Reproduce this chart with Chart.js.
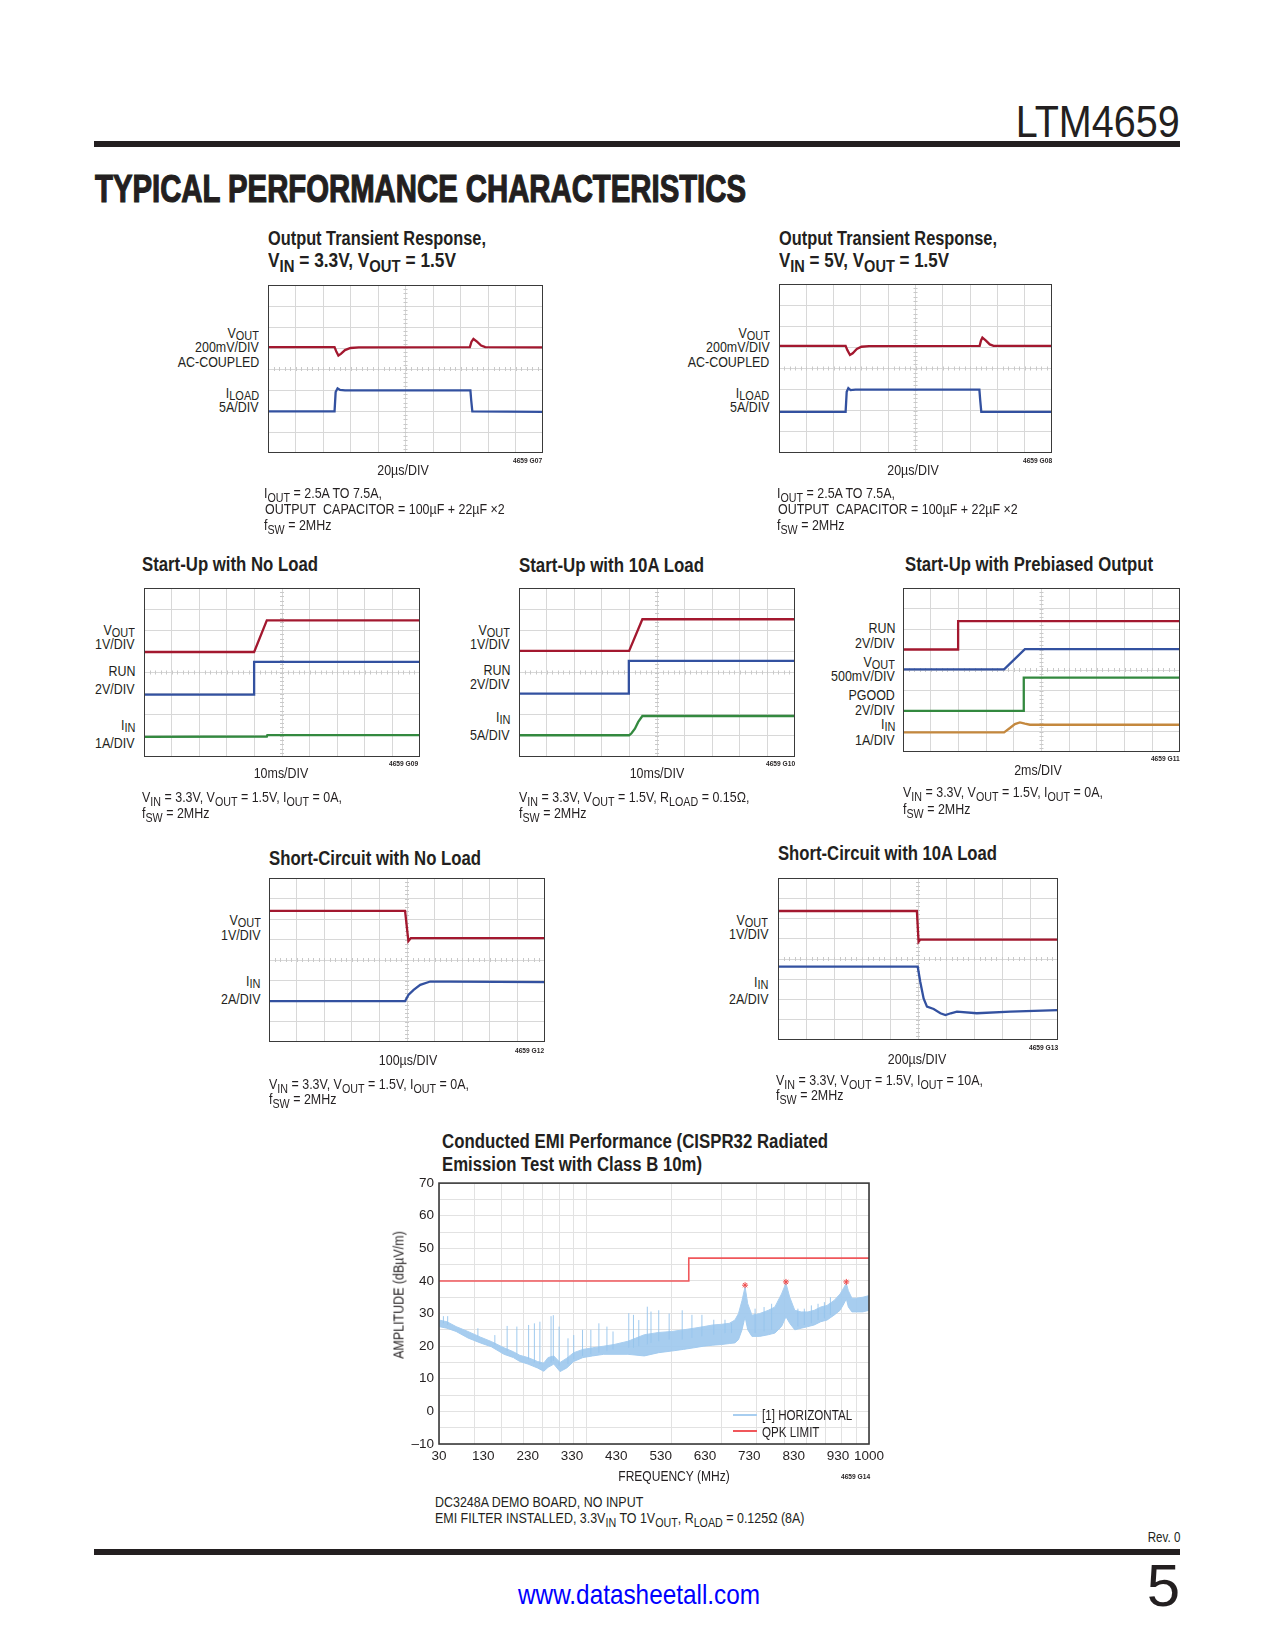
<!DOCTYPE html>
<html><head><meta charset="utf-8">
<script src="https://cdn.jsdelivr.net/npm/chart.js@4.4.1/dist/chart.umd.min.js"></script>
<style>
html,body{margin:0;padding:0;background:#fff;}
body{width:1275px;height:1650px;position:relative;overflow:hidden;font-family:"Liberation Sans Narrow","Arial Narrow","Liberation Sans",Arial,sans-serif;color:#231f20;}
.t{position:absolute;white-space:nowrap;line-height:1;}
.s{font-size:0.86em;vertical-align:-0.28em;line-height:1;}
.l{font-size:0.88em;vertical-align:-0.12em;line-height:1;}
.box{position:absolute;border:1.6px solid #3a3a3a;box-sizing:border-box;}
.rule{position:absolute;background:#231f20;}
canvas{position:absolute;}
</style></head><body>
<script>
// ---------------- DATA ----------------
// Scope traces: time in divisions (0..10), level in divisions from bottom (0..8)
const c1VoutT = [0, 2.42, 2.48, 2.56, 2.65, 2.8, 3.0, 3.3, 7.34, 7.4, 7.47, 7.6, 7.75, 7.9, 10];
const c1VoutV = [5.04, 5.04, 4.85, 4.64, 4.72, 4.9, 5.0, 5.03, 5.04, 5.3, 5.43, 5.3, 5.12, 5.04, 5.03];
const c1IloadT = [0, 2.42, 2.46, 2.53, 2.62, 2.8, 7.36, 7.39, 7.43, 10];
const c1IloadV = [1.98, 1.98, 2.9, 3.08, 3.0, 2.98, 2.98, 2.5, 1.98, 1.96];

const c2VoutT = [0, 2.44, 2.5, 2.6, 2.7, 2.85, 3.02, 3.3, 7.35, 7.4, 7.45, 7.58, 7.72, 7.86, 10];
const c2VoutV = [5.07, 5.07, 4.88, 4.64, 4.72, 4.92, 5.03, 5.06, 5.07, 5.33, 5.46, 5.32, 5.14, 5.07, 5.07];
const c2IloadT = [0, 2.44, 2.48, 2.54, 2.62, 2.8, 7.34, 7.37, 7.41, 10];
const c2IloadV = [1.95, 1.95, 2.9, 3.07, 2.98, 3.0, 3.0, 2.5, 1.95, 1.95];

const c3VoutT = [0, 3.99, 4.45, 10];       const c3VoutV = [4.97, 4.97, 6.47, 6.47];
const c3RunT  = [0, 3.99, 3.99, 10];       const c3RunV  = [2.95, 2.95, 4.5, 4.5];
const c3IinT  = [0, 4.45, 4.47, 10];       const c3IinV  = [0.95, 0.97, 1.04, 1.04];

const c4VoutT = [0, 3.99, 4.47, 10];       const c4VoutV = [5.02, 5.02, 6.52, 6.52];
const c4RunT  = [0, 3.98, 3.98, 10];       const c4RunV  = [3.0, 3.0, 4.55, 4.55];
const c4IinT  = [0, 3.99, 4.07, 4.2, 4.32, 4.47, 10];
const c4IinV  = [1.03, 1.03, 1.11, 1.34, 1.66, 1.94, 1.94];

const c5RunT   = [0, 1.99, 1.99, 10];      const c5RunV   = [5.0, 5.0, 6.38, 6.38];
const c5VoutT  = [0, 3.65, 4.4, 10];       const c5VoutV  = [4.03, 4.03, 5.02, 5.02];
const c5PgoodT = [0, 4.36, 4.36, 10];      const c5PgoodV = [2.01, 2.01, 3.63, 3.63];
const c5IinT   = [0, 3.65, 3.86, 4.04, 4.22, 4.4, 4.58, 10];
const c5IinV   = [0.96, 0.96, 1.17, 1.36, 1.44, 1.38, 1.33, 1.33];

const c6VoutT = [0, 4.93, 5.05, 5.14, 10]; const c6VoutV = [6.4, 6.4, 4.92, 5.07, 5.07];
const c6IinT  = [0, 4.93, 5.05, 5.24, 5.48, 5.84, 6.56, 10];
const c6IinV  = [1.99, 1.99, 2.3, 2.54, 2.79, 2.95, 2.95, 2.92];

const c7VoutT = [0, 4.96, 5.02, 5.08, 10]; const c7VoutV = [6.37, 6.37, 4.85, 4.96, 4.96];
const c7IinT  = [0, 4.99, 5.08, 5.2, 5.32, 5.56, 5.8, 5.98, 6.17, 6.39, 7.1, 8.3, 10];
const c7IinV  = [3.62, 3.62, 2.88, 2.05, 1.65, 1.53, 1.32, 1.23, 1.32, 1.4, 1.32, 1.4, 1.48];

// EMI chart (frequency MHz, amplitude dBuV/m)
const emiFreq = [30,32,34.5,38,42,46,51,55,58,62,67,70.5,73,76.5,80.5,85,90,97,105,115,125,140,160,180,200,220,240,260,280,300,320,335,345,355,364,372,385,410,440,464,490,508,524,546,575,608,640,675,710,752,790,815,831,845,870,900,950,1000];
const emiLow  = [26,25.5,24.5,22.5,21,19.8,17.5,16.5,15.3,14.5,13.3,12.3,13.5,14.5,12.2,13.3,15.3,16.5,17,17.5,17.5,17.5,17,18,18.5,19,19.5,20,20.3,20.5,20.8,21,22,25,29,25,23,23,23.5,24,26,29,27,25,25.5,26,26.5,27.5,28,29.5,31,33,34.5,32,30.5,30.5,30.5,31];
const emiHigh = [28,27.5,26,24.5,22.8,21.4,19.5,18.3,17.2,16.5,15.3,14.8,16.5,17,15,16.3,18,19,19.5,20,20.5,21.5,23.5,24.2,24.5,25,25.5,26,26.5,26.7,27,28,30,34,38.2,33,29.5,30,31,32,36,39.3,35,31,30.5,30.5,31,32,32.5,34,36,38,39.3,37,34.7,34.7,35,35.5];
const spikeFreq = [31.1,32.2,41.2,47.3,52.3,56.6,62.3,65.3,68.3,74.8,76.2,79.9,85.9,90,96.7,103.5,110.5,118,124,141,146.5,153,164,169,180,196,218,236,256,282,309,326,395,425,452,560,590,625,660,695,730];
const spikeBase = [27,26.5,23,20.5,18.5,17.5,16,15,14.5,15,15.5,14,14.5,16,17,17.5,18,18.5,19,19.5,19.5,20,20.5,21,21.5,22,22,22.5,23,23.5,24,24,24,24.5,25,26,26.5,27,28,28.5,29.5];
const spikeTop  = [29.2,29.2,25.5,23.4,26.2,26,26.5,27,27.5,29.2,29.5,26,22.4,23.4,25,25,27,26,24.5,30.1,29.6,28,32.1,30.6,31,30,31,29.6,29.6,28.1,28.1,27.1,31.5,32,33,31.5,31.5,32.5,33,33.5,35];
const peakFreq = [364, 508, 831];
const peakVal  = [38.7, 39.7, 39.7];
const qpkFreq = [30, 230, 230, 1000];
const qpkVal  = [40, 40, 47, 47];
const freqLabels = [30,130,230,330,430,530,630,730,830,930,1000];
const logGrid = [30,40,50,60,70,80,90,100,200,300,400,500,600,700,800,900,1000];
const ampTickVals = [-10,0,10,20,30,40,50,60,70];
const ampTickLabels = ['\u201310','0','10','20','30','40','50','60','70'];

// ---------------- helpers ----------------
const FONT = '"Liberation Sans Narrow","Arial Narrow","Liberation Sans",Arial,sans-serif';
Chart.defaults.font.family = FONT;
Chart.defaults.color = '#231f20';
const RED = '#a3182f', BLUE = '#3351a0', GREEN = '#33893f', ORANGE = '#c4883e';
const SX = 0.83; // condensing factor for regular text

function T(html, x, base, size, o = {}) {
  const d = document.createElement('div');
  d.className = 't';
  d.innerHTML = html;
  d.style.fontSize = size + 'px';
  if (o.bold) d.style.fontWeight = 'bold';
  if (o.color) d.style.color = o.color;
  if (o.css) d.style.cssText += o.css;
  d.style.top = (base - 0.8465 * size) + 'px';
  const al = o.align || 'l';
  document.body.appendChild(d);
  let tr = '';
  if (al === 'l') { d.style.left = x + 'px'; d.style.transformOrigin = 'left center'; }
  else if (al === 'r') { d.style.right = (1275 - x) + 'px'; d.style.transformOrigin = 'right center'; }
  else { d.style.left = x + 'px'; d.style.transformOrigin = 'center center'; tr = 'translateX(-50%) '; }
  if (o.w) { const w = d.getBoundingClientRect().width; tr += 'scaleX(' + (o.w / w).toFixed(4) + ')'; }
  else if (!o.nosx) { tr += 'scaleX(' + SX + ')'; }
  if (tr) d.style.transform = tr;
  return d;
}
function rule(l, t, w, h, col) {
  const d = document.createElement('div'); d.className = 'rule';
  d.style.cssText += `left:${l}px;top:${t}px;width:${w}px;height:${h}px` + (col ? `;background:${col}` : '');
  document.body.appendChild(d);
}
const centerTicks = {
  id: 'centerTicks',
  beforeDatasetsDraw(chart) {
    const { ctx, scales: { x, y } } = chart;
    ctx.save(); ctx.strokeStyle = '#c9c9c9'; ctx.lineWidth = 1;
    const cx = x.getPixelForValue(5), cy = y.getPixelForValue(4);
    for (let k = 0; k <= 50; k++) { const px = Math.round(x.getPixelForValue(k * 0.2)) + 0.5; ctx.beginPath(); ctx.moveTo(px, cy - 2); ctx.lineTo(px, cy + 2); ctx.stroke(); }
    for (let k = 0; k <= 40; k++) { const py = Math.round(y.getPixelForValue(k * 0.2)) + 0.5; ctx.beginPath(); ctx.moveTo(cx - 2, py); ctx.lineTo(cx + 2, py); ctx.stroke(); }
    ctx.restore();
  }
};
function scope(L, Tp, W, H, traces) {
  const c = document.createElement('canvas');
  c.width = W; c.height = H;
  c.style.cssText = `left:${L}px;top:${Tp}px;width:${W}px;height:${H}px`;
  document.body.appendChild(c);
  const b = document.createElement('div'); b.className = 'box';
  b.style.cssText += `left:${L}px;top:${Tp}px;width:${W}px;height:${H}px`;
  document.body.appendChild(b);
  const ax = (max) => ({ type: 'linear', min: 0, max: max, ticks: { display: false, stepSize: 1 },
    grid: { color: '#d8d8d8', drawTicks: false, lineWidth: 1 }, border: { display: false } });
  new Chart(c, {
    type: 'line',
    data: { datasets: traces.map(tr => ({
      data: tr[0].map((t, i) => ({ x: t, y: tr[1][i] })),
      borderColor: tr[2], borderWidth: 2.3, pointRadius: 0, tension: 0, fill: false })) },
    options: { animation: false, responsive: false, events: [], layout: { padding: 0 },
      plugins: { legend: { display: false }, tooltip: { enabled: false } },
      scales: { x: ax(10), y: ax(8) } },
    plugins: [centerTicks]
  });
}
const SUB = (t) => '<span class="s">' + t + '</span>';
const LSUB = (t) => '<span class="l">' + t + '</span>';

// ---------------- HEADER ----------------
T('LTM4659', 1180, 137, 44, { align: 'r', w: 164 });
rule(94, 141, 1086, 6);
T('TYPICAL PERFORMANCE CHARACTERISTICS', 95, 202, 38, { bold: true, w: 651, css: '-webkit-text-stroke:1.2px #231f20;' });

// ---------------- CHART 1 ----------------
T('Output Transient Response,', 268, 245, 20, { bold: true, w: 218 });
T('V' + SUB('IN') + ' = 3.3V, V' + SUB('OUT') + ' = 1.5V', 268, 266.5, 20, { bold: true, w: 188 });
T('V' + LSUB('OUT'), 259, 338, 15, { align: 'r' });
T('200mV/DIV', 259, 352, 15, { align: 'r' });
T('AC-COUPLED', 259, 366.5, 15, { align: 'r' });
T('I' + LSUB('LOAD'), 259, 398, 15, { align: 'r' });
T('5A/DIV', 259, 412, 15, { align: 'r' });
scope(268, 285, 275, 168, [[c1VoutT, c1VoutV, RED], [c1IloadT, c1IloadV, BLUE]]);
T('20µs/DIV', 403, 475, 15, { align: 'c' });
T('4659 G07', 542, 464, 8, { align: 'r', bold: true });
T('I' + SUB('OUT') + ' = 2.5A TO 7.5A,', 264, 497.5, 15);
T('OUTPUT&nbsp; CAPACITOR = 100µF + 22µF ×2', 265, 514, 15);
T('f' + SUB('SW') + ' = 2MHz', 264, 530, 15);

// ---------------- CHART 2 ----------------
T('Output Transient Response,', 779, 245, 20, { bold: true, w: 218 });
T('V' + SUB('IN') + ' = 5V, V' + SUB('OUT') + ' = 1.5V', 779, 266.5, 20, { bold: true, w: 170 });
T('V' + LSUB('OUT'), 769.5, 337.5, 15, { align: 'r' });
T('200mV/DIV', 769.5, 351.5, 15, { align: 'r' });
T('AC-COUPLED', 769.5, 366.5, 15, { align: 'r' });
T('I' + LSUB('LOAD'), 769.5, 397.5, 15, { align: 'r' });
T('5A/DIV', 769.5, 411.5, 15, { align: 'r' });
scope(779, 284, 273, 169, [[c2VoutT, c2VoutV, RED], [c2IloadT, c2IloadV, BLUE]]);
T('20µs/DIV', 913, 475, 15, { align: 'c' });
T('4659 G08', 1052, 463.5, 8, { align: 'r', bold: true });
T('I' + SUB('OUT') + ' = 2.5A TO 7.5A,', 776.5, 497.5, 15);
T('OUTPUT&nbsp; CAPACITOR = 100µF + 22µF ×2', 777.5, 514, 15);
T('f' + SUB('SW') + ' = 2MHz', 776.5, 530, 15);

// ---------------- CHART 3 ----------------
T('Start-Up with No Load', 142.3, 571, 20, { bold: true, w: 176 });
T('V' + LSUB('OUT'), 135, 635, 15, { align: 'r' });
T('1V/DIV', 135, 649, 15, { align: 'r' });
T('RUN', 135, 676, 15, { align: 'r' });
T('2V/DIV', 135, 694, 15, { align: 'r' });
T('I' + LSUB('IN'), 135, 730, 15, { align: 'r' });
T('1A/DIV', 135, 747.5, 15, { align: 'r' });
scope(144, 588, 276, 169, [[c3VoutT, c3VoutV, RED], [c3RunT, c3RunV, BLUE], [c3IinT, c3IinV, GREEN]]);
T('10ms/DIV', 281, 778, 15, { align: 'c' });
T('4659 G09', 418, 766.5, 8, { align: 'r', bold: true });
T('V' + SUB('IN') + ' = 3.3V, V' + SUB('OUT') + ' = 1.5V, I' + SUB('OUT') + ' = 0A,', 142, 802, 15);
T('f' + SUB('SW') + ' = 2MHz', 142, 817.5, 15);

// ---------------- CHART 4 ----------------
T('Start-Up with 10A Load', 519.3, 571.5, 20, { bold: true, w: 185 });
T('V' + LSUB('OUT'), 510, 634.5, 15, { align: 'r' });
T('1V/DIV', 510, 648.5, 15, { align: 'r' });
T('RUN', 510, 674.5, 15, { align: 'r' });
T('2V/DIV', 510, 689, 15, { align: 'r' });
T('I' + LSUB('IN'), 510, 721.5, 15, { align: 'r' });
T('5A/DIV', 510, 740, 15, { align: 'r' });
scope(519, 588, 276, 169, [[c4VoutT, c4VoutV, RED], [c4RunT, c4RunV, BLUE], [c4IinT, c4IinV, GREEN]]);
T('10ms/DIV', 656.7, 778, 15, { align: 'c' });
T('4659 G10', 795, 766.5, 8, { align: 'r', bold: true });
T('V' + SUB('IN') + ' = 3.3V, V' + SUB('OUT') + ' = 1.5V, R' + SUB('LOAD') + ' = 0.15Ω,', 518.5, 801.5, 15);
T('f' + SUB('SW') + ' = 2MHz', 518.5, 817.5, 15);

// ---------------- CHART 5 ----------------
T('Start-Up with Prebiased Output', 905, 571, 20, { bold: true, w: 248 });
T('RUN', 895, 632.5, 15, { align: 'r' });
T('2V/DIV', 895, 647.5, 15, { align: 'r' });
T('V' + LSUB('OUT'), 895, 667, 15, { align: 'r' });
T('500mV/DIV', 895, 681, 15, { align: 'r' });
T('PGOOD', 895, 700, 15, { align: 'r' });
T('2V/DIV', 895, 714.5, 15, { align: 'r' });
T('I' + LSUB('IN'), 895, 729, 15, { align: 'r' });
T('1A/DIV', 895, 745, 15, { align: 'r' });
scope(903, 588, 277, 164, [[c5RunT, c5RunV, RED], [c5VoutT, c5VoutV, BLUE], [c5PgoodT, c5PgoodV, GREEN], [c5IinT, c5IinV, ORANGE]]);
T('2ms/DIV', 1038, 775, 15, { align: 'c' });
T('4659 G11', 1180, 761.5, 8, { align: 'r', bold: true });
T('V' + SUB('IN') + ' = 3.3V, V' + SUB('OUT') + ' = 1.5V, I' + SUB('OUT') + ' = 0A,', 903.3, 796.7, 15);
T('f' + SUB('SW') + ' = 2MHz', 903.3, 813.3, 15);

// ---------------- CHART 6 ----------------
T('Short-Circuit with No Load', 269.3, 865, 20, { bold: true, w: 212 });
T('V' + LSUB('OUT'), 260.7, 925, 15, { align: 'r' });
T('1V/DIV', 260.7, 939.3, 15, { align: 'r' });
T('I' + LSUB('IN'), 260.7, 986, 15, { align: 'r' });
T('2A/DIV', 260.7, 1003.3, 15, { align: 'r' });
scope(269, 878, 276, 164, [[c6VoutT, c6VoutV, RED], [c6IinT, c6IinV, BLUE]]);
T('100µs/DIV', 408.3, 1065, 15, { align: 'c' });
T('4659 G12', 544, 1053.3, 8, { align: 'r', bold: true });
T('V' + SUB('IN') + ' = 3.3V, V' + SUB('OUT') + ' = 1.5V, I' + SUB('OUT') + ' = 0A,', 269.3, 1088.3, 15);
T('f' + SUB('SW') + ' = 2MHz', 269.3, 1103.3, 15);

// ---------------- CHART 7 ----------------
T('Short-Circuit with 10A Load', 777.7, 860, 20, { bold: true, w: 219 });
T('V' + LSUB('OUT'), 768.3, 924.3, 15, { align: 'r' });
T('1V/DIV', 768.3, 938.3, 15, { align: 'r' });
T('I' + LSUB('IN'), 768.3, 986.7, 15, { align: 'r' });
T('2A/DIV', 768.3, 1003.3, 15, { align: 'r' });
scope(778, 878, 280, 162, [[c7VoutT, c7VoutV, RED], [c7IinT, c7IinV, BLUE]]);
T('200µs/DIV', 916.7, 1063.3, 15, { align: 'c' });
T('4659 G13', 1057.7, 1051, 8, { align: 'r', bold: true });
T('V' + SUB('IN') + ' = 3.3V, V' + SUB('OUT') + ' = 1.5V, I' + SUB('OUT') + ' = 10A,', 776, 1085, 15);
T('f' + SUB('SW') + ' = 2MHz', 776, 1100, 15);

// ---------------- EMI CHART ----------------
T('Conducted EMI Performance (CISPR32 Radiated', 442.3, 1147.7, 20, { bold: true, w: 386 });
T('Emission Test with Class B 10m)', 442.3, 1171, 20, { bold: true, w: 260 });
(function () {
  const L = 384, Tp = 1170, W = 508, H = 315;
  const c = document.createElement('canvas');
  c.width = W; c.height = H;
  c.style.cssText = `left:${L}px;top:${Tp}px;width:${W}px;height:${H}px`;
  document.body.appendChild(c);
  const frame = { id: 'frame', afterDatasetsDraw(chart) {
    const a = chart.chartArea, ctx = chart.ctx;
    ctx.save(); ctx.strokeStyle = '#3a3a3a'; ctx.lineWidth = 1.6;
    ctx.strokeRect(a.left, a.top, a.right - a.left, a.bottom - a.top); ctx.restore(); } };
  const spikes = [];
  spikeFreq.forEach((f, i) => { spikes.push({ x: f, y: spikeBase[i] }, { x: f, y: spikeTop[i] }, { x: f, y: null }); });
  const tickFont = { family: FONT, size: 13.5 };
  new Chart(c, {
    type: 'line',
    data: { datasets: [
      { data: qpkFreq.map((f, i) => ({ x: f, y: qpkVal[i] })), borderColor: '#f0575b', borderWidth: 1.6, pointRadius: 0, tension: 0, fill: false },
      { data: peakFreq.map((f, i) => ({ x: f, y: peakVal[i] })), showLine: false, pointStyle: 'star', pointRadius: 3, borderColor: '#ef4a4a', borderWidth: 1, backgroundColor: '#ef4a4a' },
      { data: spikes, borderColor: 'rgba(150,196,236,0.9)', borderWidth: 1, pointRadius: 0, tension: 0, spanGaps: false, fill: false },
      { data: emiFreq.map((f, i) => ({ x: f, y: emiHigh[i] })), borderColor: '#a8cef0', borderWidth: 1, pointRadius: 0, tension: 0, fill: 4, backgroundColor: 'rgba(160,201,238,0.92)' },
      { data: emiFreq.map((f, i) => ({ x: f, y: emiLow[i] })), borderColor: '#a8cef0', borderWidth: 1, pointRadius: 0, tension: 0, fill: false }
    ] },
    options: { animation: false, responsive: false, events: [],
      layout: { padding: { left: 0, top: 13, right: 23, bottom: 0 } },
      plugins: { legend: { display: false }, tooltip: { enabled: false } },
      scales: {
        x: { type: 'logarithmic', min: 30, max: 1000, position: 'bottom',
          afterBuildTicks: s => { s.ticks = logGrid.map(v => ({ value: v })); },
          ticks: { display: false }, grid: { color: '#e2e2e2', drawTicks: false }, border: { display: false },
          afterFit: s => { s.height = 0; } },
        xl: { type: 'linear', min: 30, max: 1000, position: 'bottom',
          afterBuildTicks: s => { s.ticks = freqLabels.map(v => ({ value: v })); },
          ticks: { font: tickFont, color: '#231f20', padding: 4, maxRotation: 0, autoSkip: false, callback: v => String(v) },
          grid: { display: false, drawTicks: false }, border: { display: false },
          afterFit: s => { s.height = 41; } },
        y: { type: 'linear', min: -10, max: 70,
          ticks: { stepSize: 5, autoSkip: false, font: tickFont, color: '#231f20', padding: 5,
            callback: v => { const i = ampTickVals.indexOf(v); return i >= 0 ? ampTickLabels[i] : ''; } },
          grid: { color: '#e2e2e2', drawTicks: false }, border: { display: false },
          afterFit: s => { s.width = 55; } }
      } },
    plugins: [frame]
  });
})();
// axis titles, legend, notes
(function () {
  const d = T('AMPLITUDE (dBµV/m)', 0, 0, 15, { nosx: true });
  d.style.left = '398px'; d.style.top = '1295px';
  d.style.transformOrigin = 'center center';
  d.style.transform = 'translate(-50%,-50%) rotate(-90deg) scaleX(' + SX + ')';
})();
T('FREQUENCY (MHz)', 673.5, 1481.5, 14.5, { align: 'c' });
T('4659 G14', 870, 1480, 8, { align: 'r', bold: true });
rule(733, 1414, 24, 2, '#a8cef0');
rule(733, 1430, 24, 2, '#f0575b');
T('[1] HORIZONTAL', 762, 1420, 14);
T('QPK LIMIT', 762, 1436.5, 14);
T('DC3248A DEMO BOARD, NO INPUT', 435, 1506.7, 15);
T('EMI FILTER INSTALLED, 3.3V' + SUB('IN') + ' TO 1V' + SUB('OUT') + ', R' + SUB('LOAD') + ' = 0.125Ω (8A)', 435, 1522.3, 15);

// ---------------- FOOTER ----------------
T('Rev. 0', 1180, 1542, 14, { align: 'r' });
rule(94, 1549, 1086, 6);
T('www.datasheetall.com', 638.5, 1605, 28, { align: 'c', color: '#0000ff', w: 242 });
T('5', 1180, 1607, 60, { align: 'r', nosx: true });
</script>
</body></html>
